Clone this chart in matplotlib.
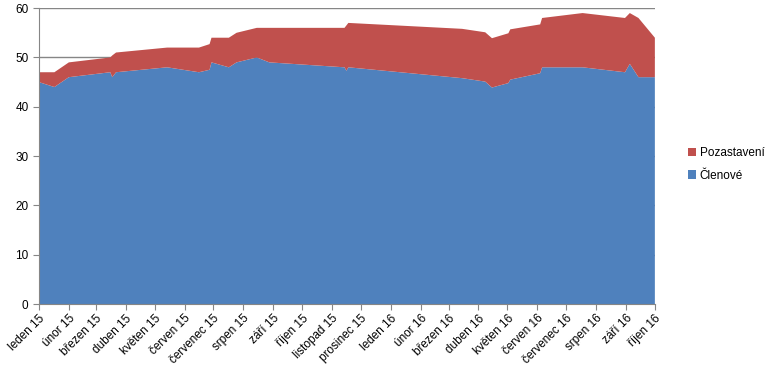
import datetime as dt
import matplotlib
matplotlib.use('Agg')
import matplotlib.pyplot as plt

# data (Excel date axis)
dates = ['2015-01-01', '2015-01-17', '2015-02-01', '2015-03-16', '2015-03-18',
         '2015-03-22', '2015-05-14', '2015-06-16', '2015-06-27', '2015-06-29',
         '2015-07-17', '2015-07-25', '2015-08-15', '2015-08-28', '2015-11-14',
         '2015-11-16', '2015-11-18', '2016-03-15', '2016-04-08', '2016-04-15',
         '2016-05-02', '2016-05-04', '2016-06-04', '2016-06-06', '2016-07-18',
         '2016-08-31', '2016-09-05', '2016-09-14', '2016-10-01']
clenove = [45, 44, 46, 47, 46, 47, 48, 47, 47.5, 49,
           48, 49, 50, 49, 48, 47.3, 48, 45.8, 45.1, 43.9,
           44.8, 45.5, 46.8, 48, 48, 47, 48.7, 46, 46]
celkem = [47, 47, 49, 50, 50.4, 51, 52, 52, 52.7, 54,
          54, 55, 56, 56, 56, 56.5, 57, 55.8, 55.1, 53.9,
          54.9, 55.7, 56.7, 58, 59, 58, 59, 58, 54]
pozastaveni = [c - m for c, m in zip(celkem, clenove)]

mesice = ['leden', 'únor', 'březen', 'duben', 'květen', 'červen', 'červenec',
          'srpen', 'září', 'říjen', 'listopad', 'prosinec']
tick_dates = [dt.date(2015 + i // 12, i % 12 + 1, 1) for i in range(22)]
tick_labels = ['%s %d' % (mesice[d.month - 1], d.year % 100) for d in tick_dates]

x = [dt.datetime.strptime(d, '%Y-%m-%d') for d in dates]

plt.rcParams['font.family'] = ['Liberation Sans', 'DejaVu Sans']
fig = plt.figure(figsize=(7.67, 3.69), dpi=100)
ax = fig.add_axes([0.0508, 0.176, 0.803, 0.802])

ax.stackplot(x, clenove, pozastaveni, colors=['#4F81BD', '#C0504D'],
             labels=['Členové', 'Pozastavení'], linewidth=0)

ax.set_xlim(dt.datetime(2015, 1, 1), dt.datetime(2016, 10, 1))
ax.set_ylim(0, 60)
ax.set_yticks(range(0, 61, 10))
ax.yaxis.grid(True, color='#868686', linewidth=1)
ax.set_axisbelow(True)

ax.set_xticks([dt.datetime(d.year, d.month, d.day) for d in tick_dates])
ax.set_xticklabels(tick_labels, rotation=45, ha='right', rotation_mode='anchor')
ax.tick_params(axis='both', labelsize=8.5, color='#868686', length=4)
ax.tick_params(axis='x', pad=2)

for s in ['top', 'right']:
    ax.spines[s].set_visible(False)
for s in ['left', 'bottom']:
    ax.spines[s].set_color('#868686')

h, l = ax.get_legend_handles_labels()
fig.legend(h[::-1], l[::-1], loc='upper left', bbox_to_anchor=(0.892, 0.611),
           frameon=False, fontsize=8.5, handlelength=0.7, handleheight=0.7,
           handletextpad=0.3, labelspacing=0.9, borderaxespad=0, borderpad=0.3)

fig.savefig('out.png', dpi=100)
